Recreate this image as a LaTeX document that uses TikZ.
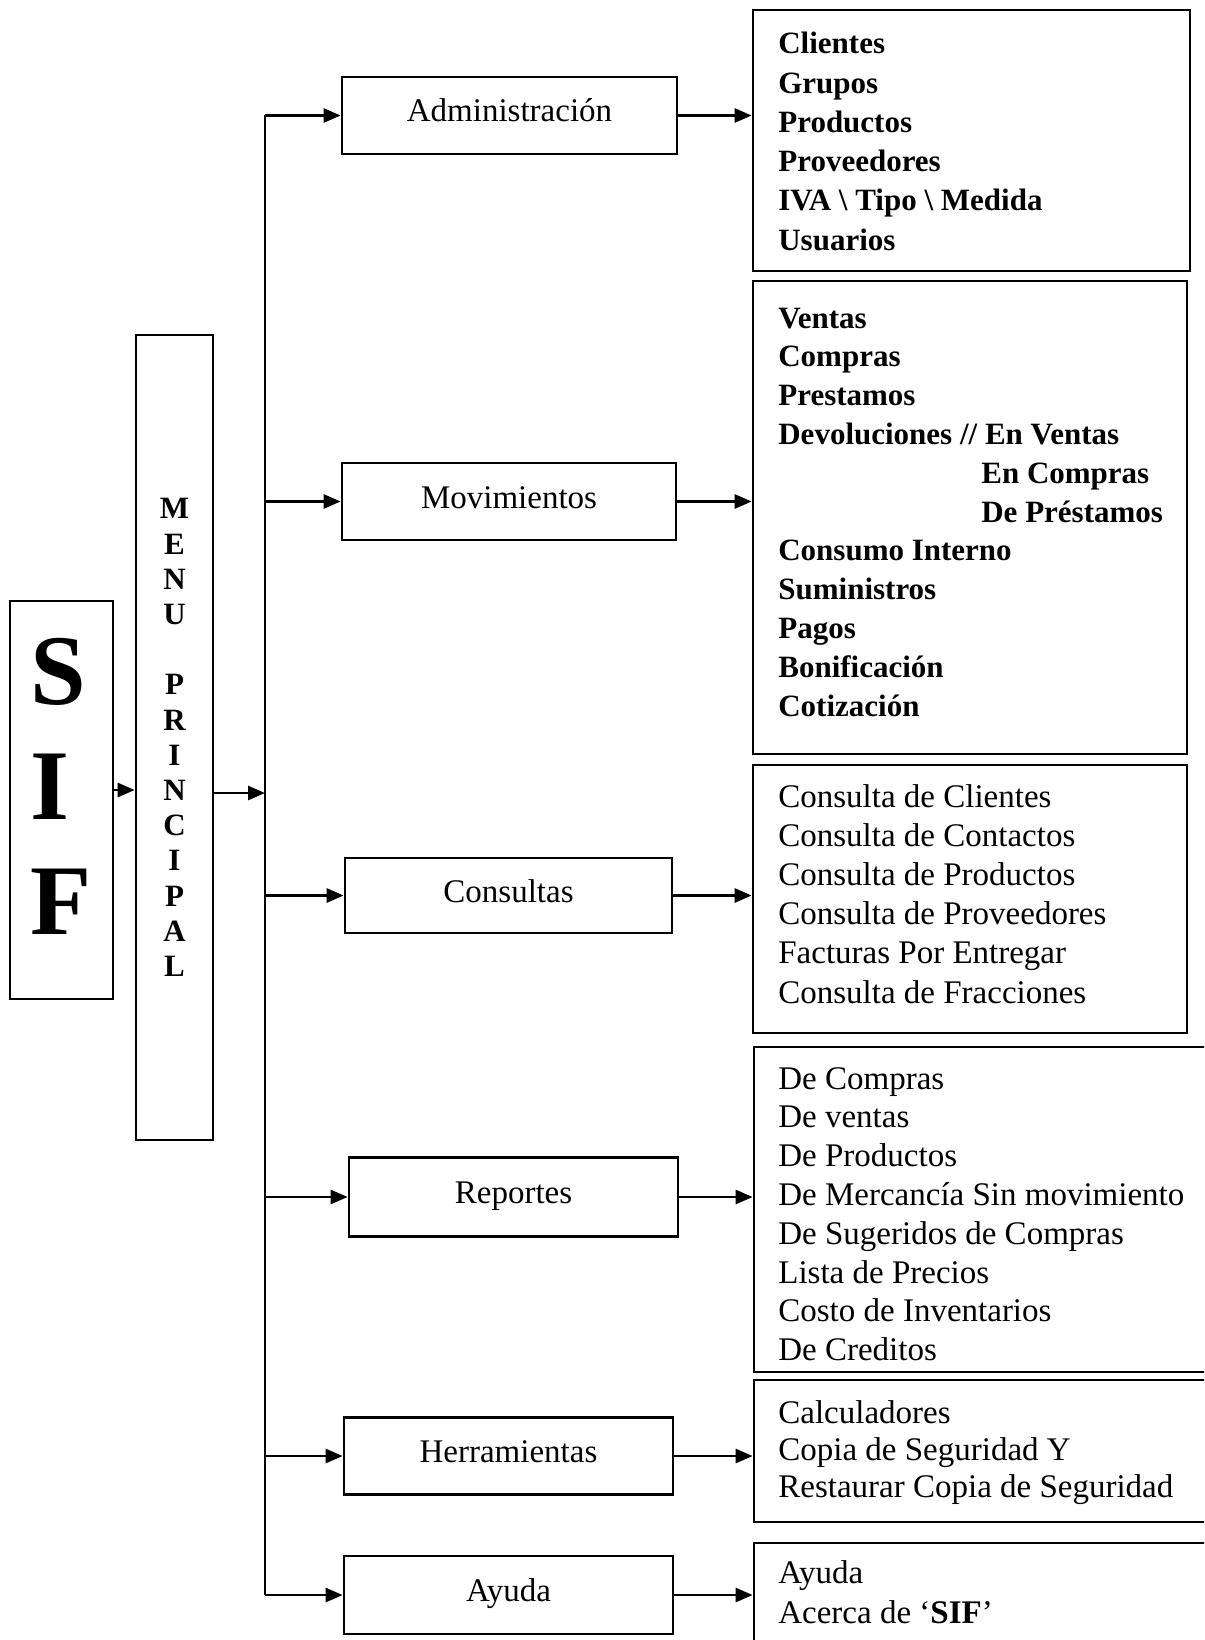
\documentclass[tikz,border=0pt]{standalone}
\usepackage{fontspec}
\setmainfont{Liberation Serif}
\usetikzlibrary{arrows.meta}

\begin{document}
\begin{tikzpicture}[x=1pt, y=-1pt, line width=2.7pt,
  frame/.style={draw, rectangle, inner sep=0pt},
  lbl/.style={font=\fontsize{33}{39}\selectfont, text height=22pt, text depth=9pt},
  arr/.style={-{Triangle[length=17pt,width=14pt]}},
  itemb/.style={anchor=base west, inner sep=0pt, font=\fontsize{31}{39}\selectfont\bfseries},
  itemr/.style={anchor=base west, inner sep=0pt, font=\fontsize{33}{39}\selectfont},
]
\fill[white] (0,0) rectangle (1204,1640);
\clip (0,0) rectangle (1204,1640);

% system block and main menu column
\node[frame, minimum width=103pt, minimum height=398pt, align=left, text depth=28pt,
      font=\fontsize{100}{115}\selectfont\bfseries] (sif) at (61.5,800) {S\\I\\F};
\node[frame, minimum width=77pt, minimum height=805pt, align=center,
      font=\fontsize{31}{35.2}\selectfont\bfseries] (menu) at (174.5,737.5)
      {M\\E\\N\\U\\~\\P\\R\\I\\N\\C\\I\\P\\A\\L};

% menu entries
\node[frame, lbl, minimum width=335pt, minimum height=77pt] (adm) at (509.5,115.5) {Administración};
\node[frame, lbl, minimum width=334pt, minimum height=77pt] (mov) at (509,501.5) {Movimientos};
\node[frame, lbl, minimum width=327pt, minimum height=75pt] (con) at (508.5,895.5) {Consultas};
\node[frame, lbl, minimum width=329pt, minimum height=79pt] (rep) at (513.5,1197) {Reportes};
\node[frame, lbl, minimum width=329pt, minimum height=77pt] (her) at (508.5,1456) {Herramientas};
\node[frame, lbl, minimum width=329pt, minimum height=78pt] (ayu) at (508.5,1595) {Ayuda};

% option lists
\node[frame, minimum width=437pt, minimum height=261pt] (L1) at (971.5,140.5) {};
\node[frame, minimum width=434pt, minimum height=473pt] (L2) at (970,517.5) {};
\node[frame, minimum width=434pt, minimum height=268pt] (L3) at (970,899) {};
\node[frame, minimum width=461pt, minimum height=325pt] (L4) at (984.5,1209.5) {};
\node[frame, minimum width=461pt, minimum height=142pt] (L5) at (984.5,1451) {};
\node[frame, minimum width=461pt, minimum height=117pt] (L6) at (984.5,1601.5) {};

% list contents
\foreach \t [count=\i] in {Clientes, Grupos, Productos, Proveedores,
    IVA \textbackslash\ Tipo \textbackslash\ Medida, Usuarios}
  \node[itemb] (la\i) at ({777},{54+39.2*(\i-1)}) {\t};

\foreach \t [count=\i] in {Ventas, Compras, Prestamos, Devoluciones // En Ventas}
  \node[itemb] (lb\i) at ({777},{328+38.8*(\i-1)}) {\t};
\node[itemb] (lb5) at (980,{328+38.8*4}) {En Compras};
\node[itemb] (lb6) at (980,{328+38.8*5}) {De Préstamos};
\foreach \t [count=\i from 7] in {Consumo Interno, Suministros, Pagos, Bonificación, Cotización}
  \node[itemb] (lb\i) at ({777},{328+38.8*(\i-1)}) {\t};

\foreach \t [count=\i] in {Consulta de Clientes, Consulta de Contactos, Consulta de Productos,
    Consulta de Proveedores, Facturas Por Entregar, Consulta de Fracciones}
  \node[itemr] (lc\i) at ({777},{807+39.2*(\i-1)}) {\t};

\foreach \t [count=\i] in {De Compras, De ventas, De Productos, De Mercancía Sin movimiento,
    De Sugeridos de Compras, Lista de Precios, Costo de Inventarios, De Creditos}
  \node[itemr] (ld\i) at ({777},{1089+38.8*(\i-1)}) {\t};

\foreach \t [count=\i] in {Calculadores, Copia de Seguridad Y, Restaurar Copia de Seguridad}
  \node[itemr] (le\i) at ({777},{1423+37*(\i-1)}) {\t};

\node[itemr] (lf1) at (777,1583) {Ayuda};
\node[itemr] (lf2) at (777,1623) {Acerca de ‘\textbf{SIF}’};

% connectors
\coordinate (sj) at (136,790);
\coordinate (mj) at (265,793);
\draw[arr] (sif.east |- sj) -- (menu.west |- sj);
\draw[arr] (menu.east |- mj) -- (mj);

\coordinate (t1) at (265,115.5);
\coordinate (t2) at (265,501.5);
\coordinate (t3) at (265,895.5);
\coordinate (t4) at (265,1197);
\coordinate (t5) at (265,1456);
\coordinate (t6) at (265,1595);
\draw (t1) -- (t6);

\foreach \j/\b/\l in {t1/adm/L1, t2/mov/L2, t3/con/L3, t4/rep/L4, t5/her/L5, t6/ayu/L6} {
  \draw[arr] (\j) -- (\b.west);
  \draw[arr] (\b.east) -- (\b.east -| \l.west);
}
\end{tikzpicture}
\end{document}
